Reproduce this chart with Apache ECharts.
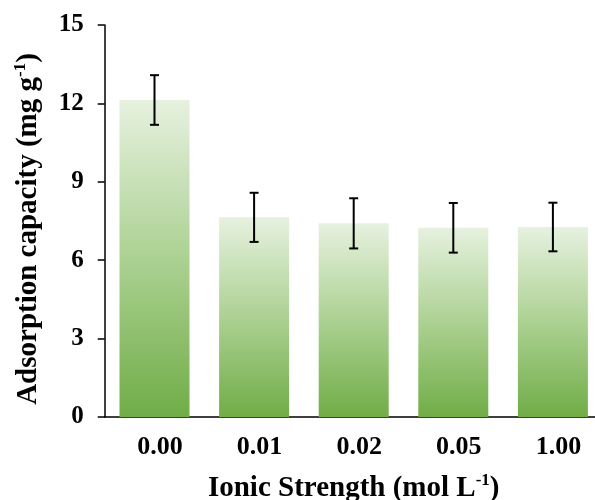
<!DOCTYPE html>
<html>
<head>
<meta charset="utf-8">
<script src="https://cdn.jsdelivr.net/npm/echarts@6/dist/echarts.min.js"></script>
<style>
html,body{margin:0;padding:0;background:#fff;}
#chart{width:595px;height:500px;}
</style>
</head>
<body>
<div id="chart"></div>
<script>
var categories = ['0.00', '0.01', '0.02', '0.05', '1.00'];
var capacity = [12.13, 7.64, 7.41, 7.24, 7.27];
var errors = [0.95, 0.94, 0.96, 0.95, 0.93];
var yTicks = { min: 0, max: 15, interval: 3 };

var FONT = '"Liberation Serif", "Times New Roman", serif';

var errData = capacity.map(function (v, i) {
  return [i, v - errors[i], v + errors[i]];
});

var chart = echarts.init(document.getElementById('chart'), null, { renderer: 'canvas' });

chart.setOption({
  backgroundColor: '#ffffff',
  animation: false,
  grid: { left: 104.7, width: 498, top: 25, height: 392, containLabel: false, outerBoundsMode: 'none' },
  xAxis: {
    type: 'category',
    data: categories,
    axisLine: { lineStyle: { color: '#000', width: 1.5 } },
    axisTick: { show: false },
    axisLabel: {
      color: '#000', fontFamily: FONT, fontWeight: 'bold', fontSize: 26, margin: 17,
      padding: [0, 0, 0, 11]
    },
    name: '{a|Ionic Strength (mol L}{s|-1}{a|)}',
    nameLocation: 'middle',
    nameGap: 54,
    nameTextStyle: {
      rich: {
        a: { color: '#000', fontFamily: FONT, fontWeight: 'bold', fontSize: 29, lineHeight: 32, verticalAlign: 'bottom' },
        s: { color: '#000', fontFamily: FONT, fontWeight: 'bold', fontSize: 17, lineHeight: 32, verticalAlign: 'top', padding: [1, 0, 0, 0] }
      }
    }
  },
  yAxis: {
    type: 'value',
    min: yTicks.min,
    max: yTicks.max,
    interval: yTicks.interval,
    splitLine: { show: false },
    axisLine: { show: true, lineStyle: { color: '#000', width: 1.5 } },
    axisTick: { show: true, inside: false, length: 7, lineStyle: { color: '#000', width: 1.5 } },
    axisLabel: {
      color: '#000', fontFamily: FONT, fontWeight: 'bold', fontSize: 25, margin: 21
    },
    name: '{a|Adsorption capacity (mg g}{s|-1}{a|)}',
    nameLocation: 'middle',
    nameGap: 62,
    nameRotate: 90,
    nameTextStyle: {
      padding: [0, 16, 0, 0],
      rich: {
        a: { color: '#000', fontFamily: FONT, fontWeight: 'bold', fontSize: 29, lineHeight: 32, verticalAlign: 'bottom' },
        s: { color: '#000', fontFamily: FONT, fontWeight: 'bold', fontSize: 17, lineHeight: 32, verticalAlign: 'top', padding: [1, 0, 0, 0] }
      }
    }
  },
  series: [
    {
      type: 'bar',
      data: capacity,
      barWidth: 70,
      itemStyle: {
        color: new echarts.graphic.LinearGradient(0, 0, 0, 1, [
          { offset: 0, color: '#e6f1df' },
          { offset: 0.5, color: '#acd192' },
          { offset: 1, color: '#70ad47' }
        ])
      }
    },
    {
      type: 'custom',
      data: errData,
      encode: { x: 0, y: [1, 2] },
      z: 10,
      renderItem: function (params, api) {
        var x = api.value(0);
        var lo = api.coord([x, api.value(1)]);
        var hi = api.coord([x, api.value(2)]);
        var hw = 4.5;
        var style = { stroke: '#000', lineWidth: 2 };
        return {
          type: 'group',
          children: [
            { type: 'line', shape: { x1: lo[0], y1: lo[1], x2: hi[0], y2: hi[1] }, style: style },
            { type: 'line', shape: { x1: lo[0] - hw, y1: lo[1], x2: lo[0] + hw, y2: lo[1] }, style: style },
            { type: 'line', shape: { x1: hi[0] - hw, y1: hi[1], x2: hi[0] + hw, y2: hi[1] }, style: style }
          ]
        };
      }
    }
  ]
});
</script>
</body>
</html>
